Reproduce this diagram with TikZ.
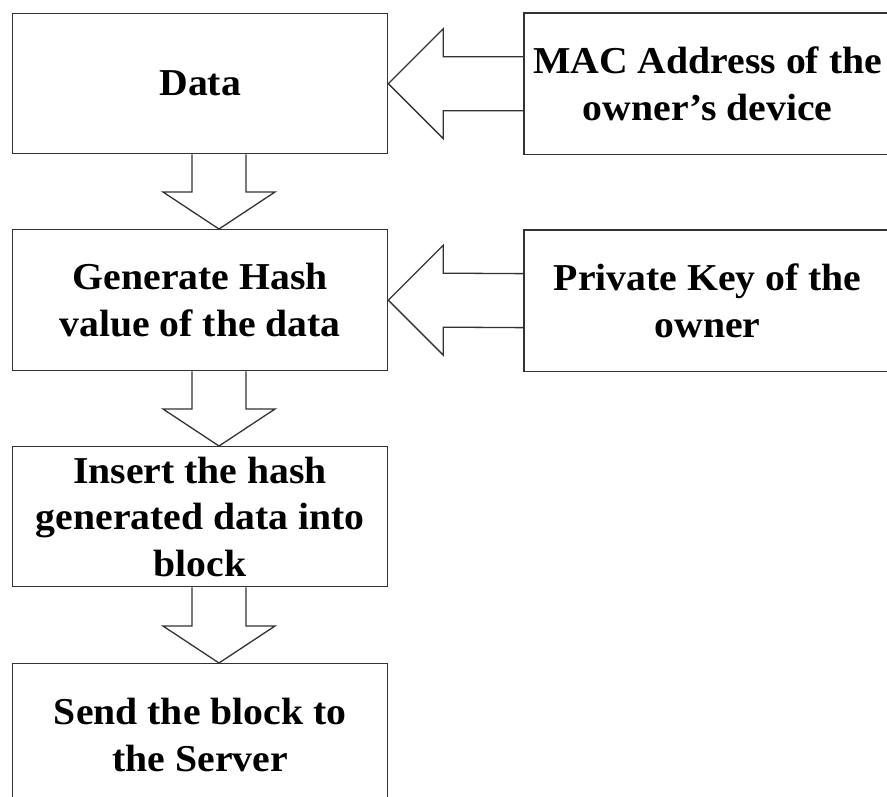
\documentclass[tikz,border=0pt]{standalone}
\usepackage{fontspec}
\setmainfont{Liberation Serif}[FakeStretch=1.045]
\usetikzlibrary{calc}
\tikzset{
  stepbox/.style={draw=black!80, line width=1.3pt, rectangle, inner sep=0pt,
    anchor=north west, align=center,
    font=\fontsize{38}{46.5}\selectfont\bfseries},
  sidebox/.style={stepbox, draw=none, minimum width=366pt, minimum height=140pt},
  boxedge/.style={draw=black!80, line width=1.3pt, line join=miter},
  fatarrow/.style={draw=black!80, line width=1.3pt, line join=miter}
}
\newcommand\fatdown[2]{%
  \path (ax |- #1.south) coordinate (s) (ax |- #2.north) coordinate (t);
  \draw[fatarrow] ($(s)+(-27,0)$) -- ($(t)+(-27,-37)$) -- ($(t)+(-56,-37)$) -- (t)
    -- ($(t)+(56,-37)$) -- ($(t)+(27,-37)$) -- ($(s)+(27,0)$);}
\newcommand\fatleft[2]{%
  \path (#1.west) coordinate (s) (#2.east) coordinate (t);
  \draw[fatarrow] ($(s)+(0,-27)$) -- ($(t)+(55,-27)$) -- ($(t)+(55,-55)$) -- (t)
    -- ($(t)+(55,55)$) -- ($(t)+(55,27)$) -- ($(s)+(0,27)$);}
\begin{document}
\begin{tikzpicture}[x=1pt,y=-1pt]
\useasboundingbox (0,0) rectangle (887,796);
\clip (0,0) rectangle (887,796);
\fill[white] (0,0) rectangle (887,796);
\coordinate (ax) at (219,0);
\node[stepbox, minimum width=375pt, minimum height=140pt] (data) at (12,13) {Data};
\node[sidebox] (mac) at (524,13) {MAC Address of the\\owner’s device};
\node[stepbox, minimum width=375pt, minimum height=141pt] (gen) at (12,229) {Generate Hash\\value of the data};
\node[sidebox] (key) at (524,230) {Private Key of the\\owner};
\node[stepbox, minimum width=375pt, minimum height=140pt] (ins) at (12,446) {Insert the hash\\generated data into\\block};
\node[stepbox, minimum width=375pt, minimum height=143pt] (send) at (12,663) {Send the block to\\the Server};
\draw[boxedge] (mac.north east) -- (mac.north west) -- (mac.south west) -- (mac.south east);
\draw[boxedge] (key.north east) -- (key.north west) -- (key.south west) -- (key.south east);
\fatleft{mac}{data}
\fatleft{key}{gen}
\fatdown{data}{gen}
\fatdown{gen}{ins}
\fatdown{ins}{send}
\end{tikzpicture}
\end{document}
